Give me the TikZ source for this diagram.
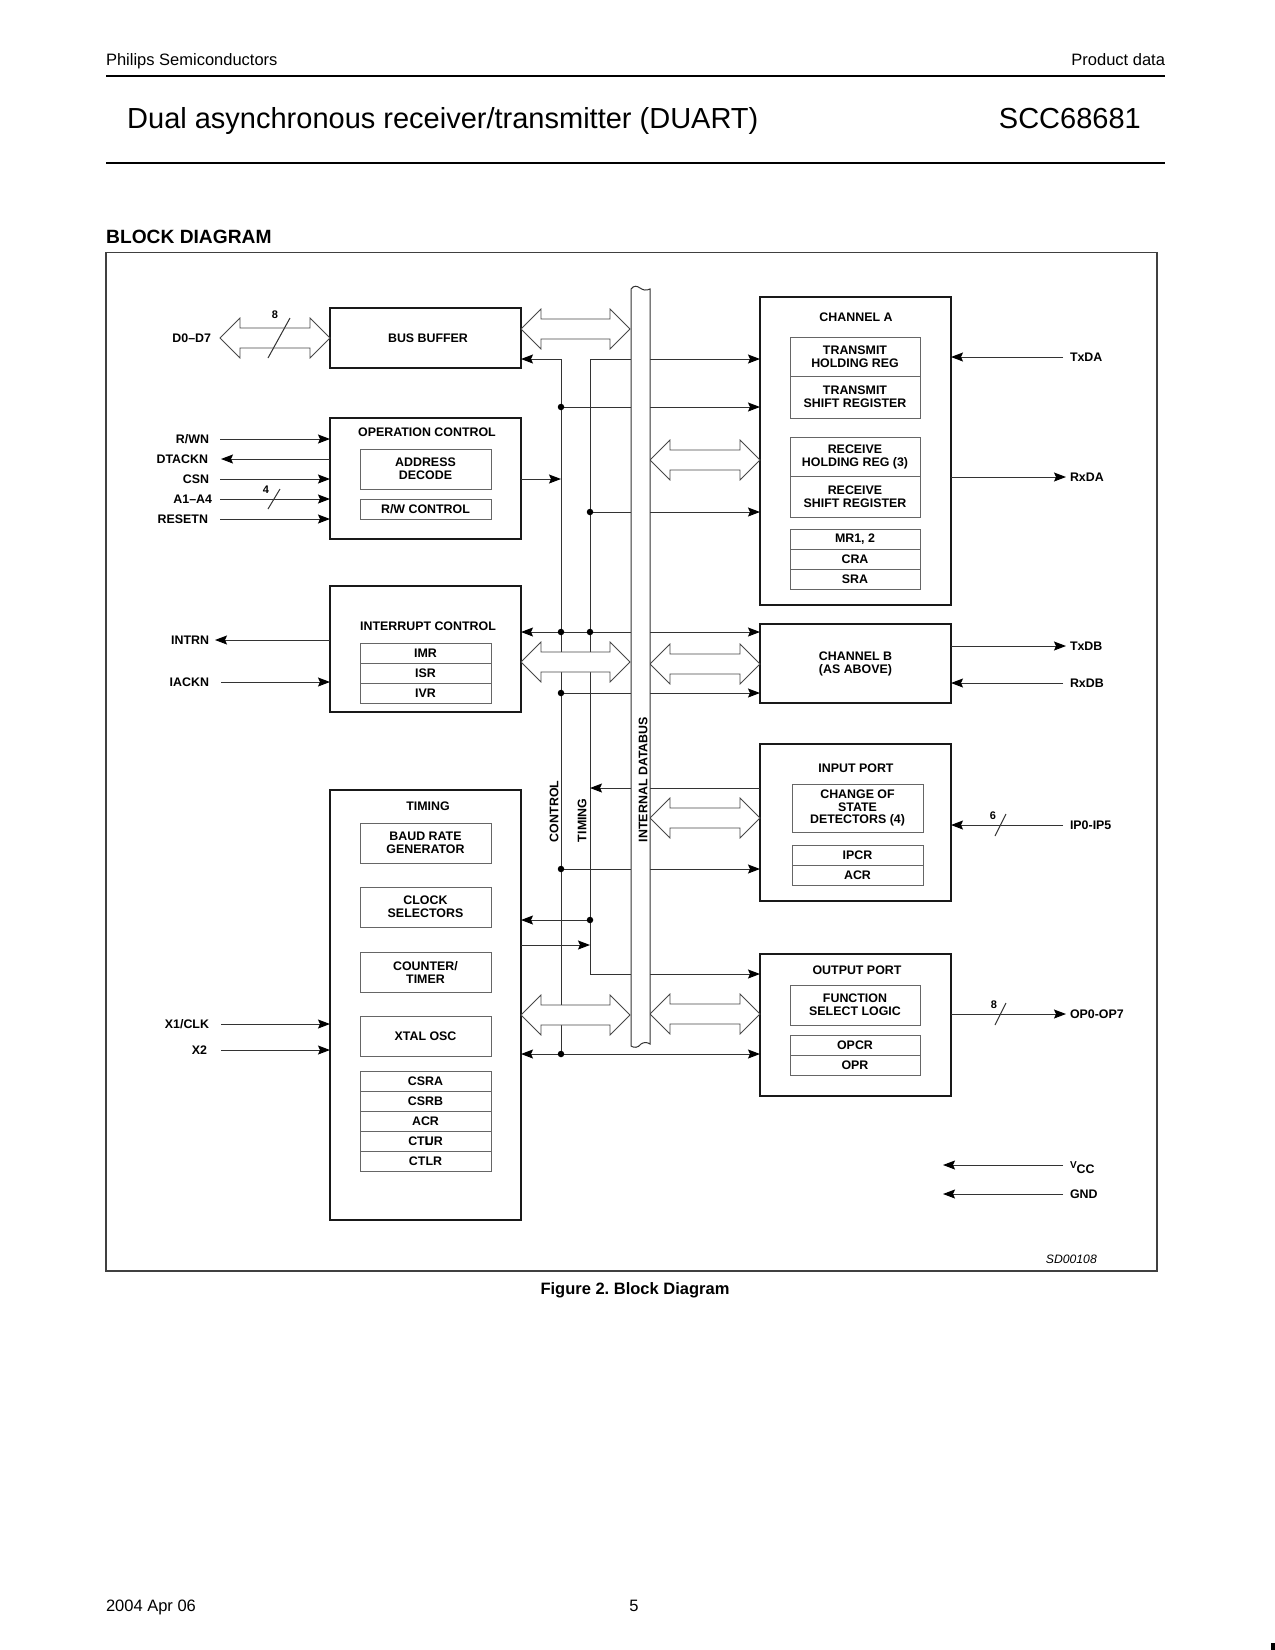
\documentclass[tikz,border=0pt]{standalone}
\usepackage{fontspec}
\setmainfont{Liberation Sans}
\usetikzlibrary{arrows.meta,calc}
\frenchspacing
\newcommand\lf{\bfseries\fontsize{12.4}{13}\selectfont}
\newcommand\hollowarr[3]{\draw[hol] (#1,#3) -- ({#1+20},{#3-20}) -- ({#1+20},{#3-10}) -- ({#2-20},{#3-10}) -- ({#2-20},{#3-20}) -- (#2,#3) -- ({#2-20},{#3+20}) -- ({#2-20},{#3+10}) -- ({#1+20},{#3+10}) -- ({#1+20},{#3+20}) -- cycle;}
\begin{document}
\begin{tikzpicture}[x=1pt,y=-1pt,
  big/.style={draw=black!90,line width=2.2pt,inner sep=0pt,outer sep=0pt,align=center,font=\lf},
  sub/.style={draw=black!60,line width=0.9pt,inner sep=0pt,outer sep=0pt,align=center,font=\lf},
  txt/.style={inner sep=0pt,outer sep=0pt,align=center,font=\lf},
  lab/.style={inner sep=0pt,outer sep=0pt,font=\lf},
  num/.style={inner sep=0pt,outer sep=0pt,font=\bfseries\fontsize{11}{12}\selectfont},
  wire/.style={draw=black!80,line width=1pt},
  tip/.tip={Stealth[length=12pt,width=9pt,inset=2pt,color=black]},
  arr/.style={wire,-tip},
  barr/.style={wire,tip-tip},
  jdot/.style={circle,fill=black,inner sep=0pt,minimum size=6.5pt},
  hol/.style={draw=black!72,line width=0.8pt,fill=white,line join=miter},
  rule/.style={draw=black,line width=2.4pt},
  pg/.style={inner sep=0pt,outer sep=0pt,font=\fontsize{16.5}{18}\selectfont},
]
\useasboundingbox (0,0) rectangle (1275,1650);
\fill[white] (0,0) rectangle (1275,1650);

% ---------- page header / footer ----------
\node[pg,anchor=base west] (hleft) at (106,65) {Philips Semiconductors};
\node[pg,anchor=base east] (hright) at (1165,65) {Product data};
\draw[rule] (106,76) -- (1165,76);
\node[inner sep=0pt,anchor=base west,font=\fontsize{29}{32}\selectfont] (title) at (127,128.5) {Dual asynchronous receiver/transmitter (DUART)};
\node[inner sep=0pt,anchor=base east,font=\fontsize{29}{32}\selectfont] (part) at (1141,128.5) {SCC68681};
\draw[rule] (106,163) -- (1165,163);
\node[inner sep=0pt,anchor=base west,font=\bfseries\fontsize{19.2}{21}\selectfont] (bdtitle) at (106,243) {BLOCK DIAGRAM};
\draw[draw=black!75,line width=1.1pt] (106,252.5) rectangle (1157,1271);
\node[inner sep=0pt,anchor=base,font=\bfseries\fontsize{16.5}{18}\selectfont] (caption) at (635,1294) {Figure 2. Block Diagram};
\node[pg,anchor=base west] (fdate) at (106,1611) {2004 Apr 06};
\node[pg,anchor=base] (fpage) at (634,1611) {5};
\fill[black] (1271,1643) rectangle (1275,1650);
\node[inner sep=0pt,anchor=east,font=\itshape\fontsize{12.2}{13}\selectfont] (sdnum) at (1097,1259) {SD00108};

% ---------- left column blocks ----------
\node[big,minimum width=191pt,minimum height=60pt] (bb) at (425.5,338) {};
\node[txt] (bbT) at (428,338) {BUS BUFFER};

\node[big,minimum width=191pt,minimum height=121pt] (opc) at (425.5,478.5) {};
\node[txt] (opcT) at (427,432) {OPERATION CONTROL};
\node[sub,minimum width=131pt,minimum height=40pt] (addr) at (425.5,469) {ADDRESS\\DECODE};
\node[sub,minimum width=131pt,minimum height=20pt] (rwc) at (425.5,509) {R/W CONTROL};

\node[big,minimum width=191pt,minimum height=126pt] (intc) at (425.5,649) {};
\node[txt] (intT) at (428,626) {INTERRUPT CONTROL};
\node[sub,minimum width=131pt,minimum height=20pt] (imr) at (425.5,653) {IMR};
\node[sub,minimum width=131pt,minimum height=20pt] (isr) at (425.5,673) {ISR};
\node[sub,minimum width=131pt,minimum height=20pt] (ivr) at (425.5,693) {IVR};

\node[big,minimum width=191pt,minimum height=430pt] (tim) at (425.5,1005) {};
\node[txt] (timT) at (428,806) {TIMING};
\node[sub,minimum width=131pt,minimum height=40pt] (baud) at (425.5,843) {BAUD RATE\\GENERATOR};
\node[sub,minimum width=131pt,minimum height=40pt] (clks) at (425.5,907) {CLOCK\\SELECTORS};
\node[sub,minimum width=131pt,minimum height=40pt] (cnt) at (425.5,972) {COUNTER/\\TIMER};
\node[sub,minimum width=131pt,minimum height=40pt] (xtal) at (425.5,1036) {XTAL OSC};
\node[sub,minimum width=131pt,minimum height=20pt] (csra) at (425.5,1081) {CSRA};
\node[sub,minimum width=131pt,minimum height=20pt] (csrb) at (425.5,1101) {CSRB};
\node[sub,minimum width=131pt,minimum height=20pt] (acrt) at (425.5,1121) {ACR};
\node[sub,minimum width=131pt,minimum height=20pt] (ctur) at (425.5,1141) {CT\makebox[0pt][l]{L}UR};
\node[sub,minimum width=131pt,minimum height=20pt] (ctlr) at (425.5,1161) {CTLR};

% ---------- right column blocks ----------
\node[big,minimum width=191pt,minimum height=308pt] (chA) at (855.5,451) {};
\node[txt] (chAT) at (856,317) {CHANNEL A};
\node[sub,minimum width=130pt,minimum height=39pt] (thr) at (855,356.5) {TRANSMIT\\HOLDING REG};
\node[sub,minimum width=130pt,minimum height=42pt] (tsr) at (855,397) {TRANSMIT\\SHIFT REGISTER};
\node[sub,minimum width=130pt,minimum height=39pt] (rhr) at (855,456.5) {RECEIVE\\HOLDING REG (3)};
\node[sub,minimum width=130pt,minimum height=41pt] (rsr) at (855,496.5) {RECEIVE\\SHIFT REGISTER};
\node[sub,minimum width=130pt,minimum height=20pt] (mr) at (855,539) {MR1, 2};
\node[sub,minimum width=130pt,minimum height=20pt] (cra) at (855,559) {CRA};
\node[sub,minimum width=130pt,minimum height=20pt] (sra) at (855,579) {SRA};

\node[big,minimum width=191pt,minimum height=79pt] (chB) at (855.5,663.5) {CHANNEL B\\(AS ABOVE)};

\node[big,minimum width=191pt,minimum height=157pt] (inp) at (855.5,822.5) {};
\node[txt] (inpT) at (856,768) {INPUT PORT};
\node[sub,minimum width=131pt,minimum height=48pt,font=\bfseries\fontsize{12.4}{12.5}\selectfont] (cos) at (857.5,808) {CHANGE OF\\STATE\\DETECTORS (4)};
\node[sub,minimum width=131pt,minimum height=20pt] (ipcr) at (857.5,855) {IPCR};
\node[sub,minimum width=131pt,minimum height=20pt] (acrp) at (857.5,875) {ACR};

\node[big,minimum width=191pt,minimum height=142pt] (outp) at (855.5,1025) {};
\node[txt] (outT) at (857,970) {OUTPUT PORT};
\node[sub,minimum width=130pt,minimum height=40pt] (fsl) at (855,1005) {FUNCTION\\SELECT LOGIC};
\node[sub,minimum width=130pt,minimum height=20pt] (opcr) at (855,1045) {OPCR};
\node[sub,minimum width=130pt,minimum height=20pt] (opr) at (855,1065) {OPR};

% ---------- internal control / timing lines ----------
\coordinate (ctop) at (561,359);
\coordinate (cbot) at (561,1054);
\coordinate (ttop) at (590,359);
\coordinate (tturn) at (590,974);
\coordinate (j1) at (561,407);
\coordinate (j2) at (590,512);
\coordinate (j3) at (561,479);
\coordinate (j4) at (561,632);
\coordinate (j5) at (590,632);
\coordinate (j6) at (561,693);
\coordinate (j7) at (590,788);
\coordinate (j8) at (561,869);
\coordinate (j9) at (590,920);
\coordinate (j10) at (590,945);

\draw[wire] (ctop) -- (cbot);
\draw[arr] (ctop) -- (bb.east |- ctop);
\draw[wire] (ttop) -- (tturn);
\draw[arr] (ttop) -- (chA.west |- ttop);
\draw[arr] (tturn) -- (outp.west |- tturn);
\draw[arr] (j1) -- (chA.west |- j1);
\draw[arr] (j2) -- (chA.west |- j2);
\draw[arr] (opc.east |- j3) -- (j3);
\draw[barr] (intc.east |- j4) -- (chB.west |- j4);
\draw[arr] (j6) -- (chB.west |- j6);
\draw[arr] (inp.west |- j7) -- (j7);
\draw[arr] (j8) -- (inp.west |- j8);
\draw[arr] (j9) -- (tim.east |- j9);
\draw[arr] (tim.east |- j10) -- (j10);
\draw[barr] (tim.east |- cbot) -- (outp.west |- cbot);

\foreach \j in {j1,j2,j4,j5,j6,j8,j9,cbot} \node[jdot] at (\j) {};

% ---------- hollow bus arrows ----------
\hollowarr{220}{330}{338}
\hollowarr{521}{630}{329}
\hollowarr{650}{760}{460}
\hollowarr{521}{630}{662}
\hollowarr{650}{760}{664}
\hollowarr{650}{760}{818}
\hollowarr{521}{630}{1015}
\hollowarr{650}{760}{1014}

% ---------- internal databus ----------
\draw[wire,fill=white] (631,289) .. controls (634,285) and (637,286) .. (640,288) .. controls (643,290) and (646,291) .. (650,289) -- (650,1044) .. controls (647,1042) and (644,1042) .. (641,1044) .. controls (638,1048) and (634,1048) .. (631,1046) -- cycle;
\node[lab,rotate=90,anchor=west] (busT) at (643,842) {INTERNAL DATABUS};
\node[lab,rotate=90,anchor=west] (ctlT) at (554,842) {CONTROL};
\node[lab,rotate=90,anchor=west] (timgT) at (582,842) {TIMING};

% ---------- external pins, left ----------
\node[lab,anchor=east] (d07) at (211,338) {D0–D7};
\draw[wire] (268,358) -- (290,318);
\node[num] (n8a) at (275,315) {8};

\node[lab,anchor=east] (rwn) at (209,439) {R/WN};
\node[lab,anchor=east] (dtack) at (208,459) {DTACKN};
\node[lab,anchor=east] (csn) at (209,479) {CSN};
\node[lab,anchor=east] (a14) at (212,499) {A1–A4};
\node[lab,anchor=east] (rst) at (208,519) {RESETN};
\coordinate (rwnS) at (220,439);
\coordinate (dtackE) at (221,459);
\coordinate (csnS) at (220,479);
\coordinate (a14S) at (220,499);
\coordinate (rstS) at (220,519);
\draw[arr] (rwnS) -- (opc.west |- rwnS);
\draw[arr] (opc.west |- dtackE) -- (dtackE);
\draw[arr] (csnS) -- (opc.west |- csnS);
\draw[arr] (a14S) -- (opc.west |- a14S);
\draw[arr] (rstS) -- (opc.west |- rstS);
\draw[wire] (268,509) -- (280,489);
\node[num] (n4) at (266,490) {4};

\node[lab,anchor=east] (intrn) at (209,640) {INTRN};
\node[lab,anchor=east] (iack) at (209,682) {IACKN};
\coordinate (intrnE) at (215,640);
\coordinate (iackS) at (221,682);
\draw[arr] (intc.west |- intrnE) -- (intrnE);
\draw[arr] (iackS) -- (intc.west |- iackS);

\node[lab,anchor=east] (x1) at (209,1024) {X1/CLK};
\node[lab,anchor=east] (x2) at (207,1050) {X2};
\coordinate (x1S) at (221,1024);
\coordinate (x2S) at (221,1050);
\draw[arr] (x1S) -- (tim.west |- x1S);
\draw[arr] (x2S) -- (tim.west |- x2S);

% ---------- external pins, right ----------
\node[lab,anchor=west] (txda) at (1070,357) {TxDA};
\node[lab,anchor=west] (rxda) at (1070,477) {RxDA};
\node[lab,anchor=west] (txdb) at (1070,646) {TxDB};
\node[lab,anchor=west] (rxdb) at (1070,683) {RxDB};
\node[lab,anchor=west] (ip) at (1070,825) {IP0-IP5};
\node[lab,anchor=west] (op) at (1070,1014) {OP0-OP7};
\node[lab,anchor=base west] (vcc) at (1070,1173) {\raisebox{5pt}{\bfseries\fontsize{10}{10}\selectfont V}CC};
\node[lab,anchor=west] (gnd) at (1070,1194) {GND};

\coordinate (txdaS) at (1063,357);
\coordinate (rxdaE) at (1066,477);
\coordinate (txdbE) at (1066,646);
\coordinate (rxdbS) at (1063,683);
\coordinate (ipS) at (1063,825);
\coordinate (opE) at (1066,1014);
\coordinate (vccS) at (1063,1165);
\coordinate (vccE) at (943,1165);
\coordinate (gndS) at (1063,1194);
\coordinate (gndE) at (943,1194);

\draw[arr] (txdaS) -- (chA.east |- txdaS);
\draw[arr] (chA.east |- rxdaE) -- (rxdaE);
\draw[arr] (chB.east |- txdbE) -- (txdbE);
\draw[arr] (rxdbS) -- (chB.east |- rxdbS);
\draw[arr] (ipS) -- (inp.east |- ipS);
\draw[wire] (995,836) -- (1006,814);
\node[num] (n6) at (993,816) {6};
\draw[arr] (outp.east |- opE) -- (opE);
\draw[wire] (995,1025) -- (1006,1003);
\node[num] (n8b) at (994,1005) {8};
\draw[arr] (vccS) -- (vccE);
\draw[arr] (gndS) -- (gndE);
\end{tikzpicture}
\end{document}
